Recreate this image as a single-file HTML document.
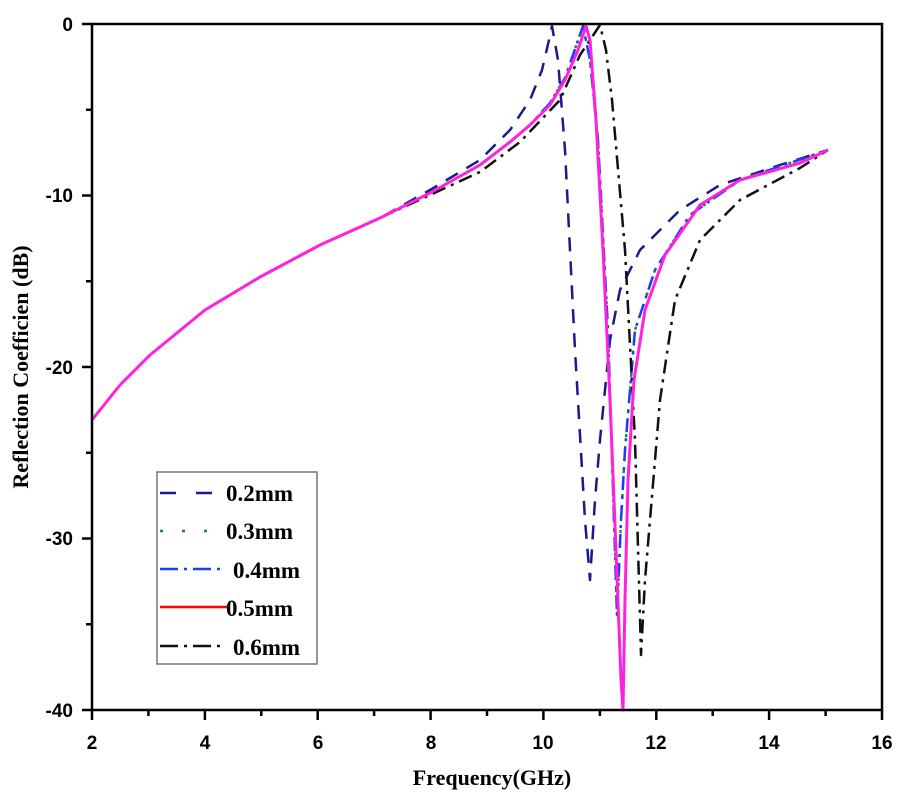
<!DOCTYPE html>
<html><head><meta charset="utf-8"><style>body{margin:0;background:#fff}</style></head><body>
<svg width="900" height="800" xmlns="http://www.w3.org/2000/svg">
<rect width="900" height="800" fill="#fff"/>
<g fill="none" stroke-width="2.5" stroke-linejoin="round">
<path stroke="#1a1a8c" stroke-dasharray="14,10" d="M92,420 L120,385 L150,355 L205,310 L260,277 L320,245 L380,218 L430,190 L480,160 L510,130 L530,100 L542,70 L549,40 L552,26 L558,60 L565,150 L575,350 L585,520 L590,580 L595,500 L600,440 L610,340 L620,290 L640,250 L680,210 L720,185 L780,165 L828,150"/>
<path stroke="#1a8c1a" stroke-dasharray="3,9" d="M92,420 L120,385 L150,355 L205,310 L260,277 L320,245 L380,218 L430,193 L480,165 L510,142 L530,125 L550,103 L565,78 L583,26 L590,60 L598,140 L608,330 L617,615 L621,520 L625,450 L635,330 L655,270 L690,215 L740,180 L828,150"/>
<path stroke="#1a3cff" stroke-dasharray="14,6,3,6" d="M92,420 L120,385 L150,355 L205,310 L260,277 L320,245 L380,218 L430,193 L480,165 L510,142 L530,125 L550,103 L565,78 L583,26 L590,60 L598,140 L608,330 L617,615 L621,520 L625,450 L635,330 L655,270 L690,215 L740,180 L828,150"/>
<path stroke="#111" stroke-dasharray="14,6,3,6" d="M380,218 L430,195 L480,172 L520,142 L560,100 L580,55 L600,25 L606,50 L612,100 L625,250 L635,440 L641,655 L645,580 L650,520 L660,400 L675,300 L700,240 L740,200 L800,168 L828,150"/>
<path stroke="#ff22dd" stroke-width="3" d="M92,420 L120,385 L150,355 L205,310 L260,277 L320,245 L380,218 L430,193 L480,165 L510,142 L530,125 L550,105 L565,80 L578,50 L586,26 L590,40 L596,120 L603,250 L610,400 L616,550 L621,680 L623,710 L625,600 L628,480 L634,380 L645,310 L665,255 L700,205 L740,180 L800,163 L828,150"/>
</g>
<g stroke="#000" stroke-width="2.5" fill="none">
<rect x="92" y="24" width="790" height="686"/>
<path d="M92,710v10M148.4,710v6M204.9,710v10M261.3,710v6M317.7,710v10M374.1,710v6M430.6,710v10M487,710v6M543.4,710v10M599.9,710v6M656.3,710v10M712.7,710v6M769.1,710v10M825.6,710v6M882,710v10"/>
<path d="M92,24h-10M92,109.75h-6M92,195.5h-10M92,281.25h-6M92,367h-10M92,452.75h-6M92,538.5h-10M92,624.25h-6M92,710h-10"/>
</g>
<g font-family="Liberation Sans, sans-serif" font-weight="bold" font-size="19" text-anchor="middle">
<text x="92" y="749">2</text><text x="205" y="749">4</text><text x="318" y="749">6</text><text x="431" y="749">8</text><text x="543" y="749">10</text><text x="656" y="749">12</text><text x="769" y="749">14</text><text x="882" y="749">16</text>
<g text-anchor="end"><text x="73" y="31">0</text><text x="73" y="202">-10</text><text x="73" y="374">-20</text><text x="73" y="545">-30</text><text x="73" y="717">-40</text></g>
</g>
<g font-family="Liberation Serif, serif" font-weight="bold" font-size="22">
<text x="492" y="785" text-anchor="middle">Frequency(GHz)</text>
<text transform="translate(28,367) rotate(-90)" text-anchor="middle">Reflection Coefficien (dB)</text>
</g>
<rect x="157" y="472" width="160" height="192" fill="#fff" stroke="#777" stroke-width="1.5"/>
<g stroke-width="2.5">
<line x1="160" y1="493" x2="215" y2="493" stroke="#1a1a8c" stroke-dasharray="16,20"/>
<line x1="160" y1="531" x2="215" y2="531" stroke="#1a8c1a" stroke-dasharray="3,19"/>
<line x1="160" y1="569" x2="225" y2="569" stroke="#1a3cff" stroke-dasharray="18,6,3,6"/>
<line x1="160" y1="607" x2="228" y2="607" stroke="#f00"/>
<line x1="160" y1="646" x2="225" y2="646" stroke="#111" stroke-dasharray="18,6,3,6"/>
</g>
<g font-family="Liberation Serif, serif" font-weight="bold" font-size="23">
<text x="226" y="501">0.2mm</text><text x="226" y="539">0.3mm</text><text x="233" y="578">0.4mm</text><text x="226" y="616">0.5mm</text><text x="233" y="655">0.6mm</text>
</g>
</svg>
</body></html>
